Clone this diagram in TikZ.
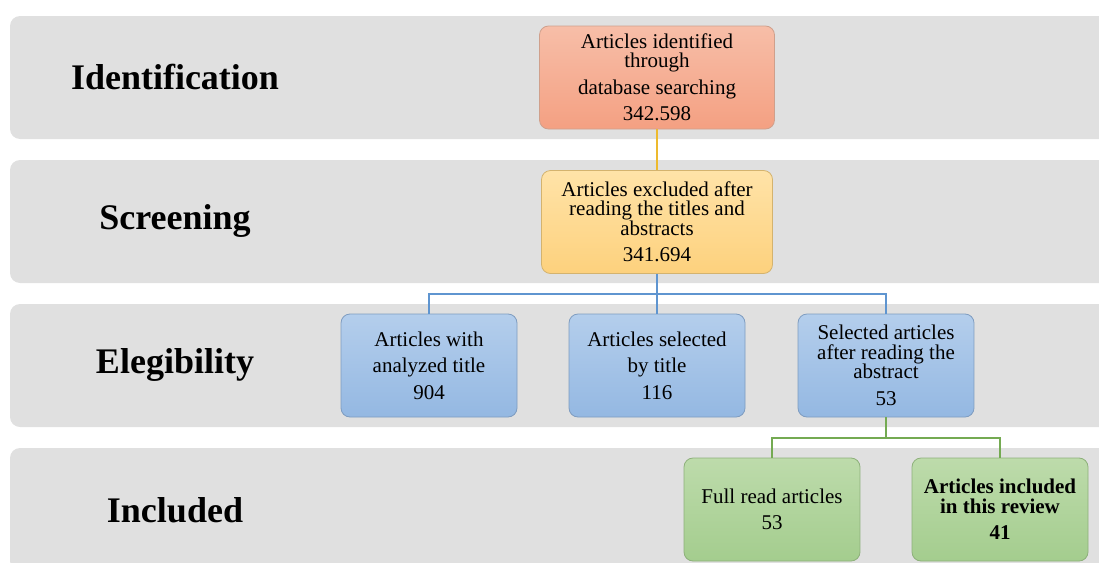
\documentclass[tikz,border=0pt]{standalone}
\usepackage{fontspec}
\setmainfont{Liberation Serif}
\usepackage{xcolor}
\usepackage{tikz}

\definecolor{bandgray}{HTML}{E0E0E0}
\definecolor{orgtop}{HTML}{F7BEA8}
\definecolor{orgbot}{HTML}{F4A082}
\definecolor{orgline}{HTML}{CFA08C}
\definecolor{yeltop}{HTML}{FFE3A8}
\definecolor{yelbot}{HTML}{FDD17D}
\definecolor{yelline}{HTML}{D4B36E}
\definecolor{blutop}{HTML}{B4CEEC}
\definecolor{blubot}{HTML}{94B8E2}
\definecolor{bluline}{HTML}{7E9CC0}
\definecolor{grntop}{HTML}{BDDBAB}
\definecolor{grnbot}{HTML}{A4CD8E}
\definecolor{grnline}{HTML}{8DB07A}
\definecolor{linkyel}{HTML}{EDBA2E}
\definecolor{linkblu}{HTML}{5F95D0}
\definecolor{linkgrn}{HTML}{74AA52}

\begin{document}
\begin{tikzpicture}[x=1pt,y=-1pt,
  band/.style={fill=bandgray, rounded corners=10pt},
  phase/.style={font=\fontsize{36}{40}\selectfont\bfseries},
  stepbox/.style={draw, rounded corners=9pt, minimum width=176pt, minimum height=103pt,
    inner sep=0pt, align=center, line width=0.8pt, font=\fontsize{21}{19.5}\selectfont},
  orgbox/.style={stepbox, minimum width=235pt, draw=orgline, top color=orgtop, bottom color=orgbot},
  yelbox/.style={stepbox, minimum width=231pt, draw=yelline, top color=yeltop, bottom color=yelbot},
  blubox/.style={stepbox, draw=bluline, top color=blutop, bottom color=blubot},
  grnbox/.style={stepbox, draw=grnline, top color=grntop, bottom color=grnbot},
  link/.style={line width=1.2pt}]
\useasboundingbox (0,0) rectangle (1099,562);
\begin{scope}
\clip (0,0) rectangle (1099,562);
\foreach \top in {16,160,304,448}
    \fill[band] (10,\top) rectangle (1130,\top+123);
\end{scope}

\node[phase] (idph) at (175,77) {Identification};
\node[phase] (scph) at (175,221) {Screening};
\node[phase] (elph) at (175,365) {Elegibility};
\node[phase] (inph) at (175,510) {Included};

\node[orgbox] (ident) at (657,77.5) {Articles identified\\ through\\[7pt] database searching\\[7pt] 342.598};
\node[yelbox] (excl) at (657,222) {Articles excluded after\\ reading the titles and\\ abstracts\\[7pt] 341.694};
\node[blubox] (analyzed) at (429,365.5) {Articles with\\[7pt] analyzed title\\[7pt] 904};
\node[blubox] (bytitle) at (657,365.5) {Articles selected\\[7pt] by title\\[7pt] 116};
\node[blubox] (abstr) at (886,365.5) {Selected articles\\ after reading the\\ abstract\\[7pt] 53};
\node[grnbox] (fullread) at (772,509.5) {Full read articles\\[7pt] 53};
\node[grnbox, font=\fontsize{21}{19.5}\selectfont\bfseries] (included) at (1000,509.5) {Articles included\\ in this review\\[7pt] 41};

\coordinate (bsplit) at (657,294);
\coordinate (gsplit) at (886,438);
\draw[link, draw=linkyel] (ident.south) -- (excl.north);
\draw[link, draw=linkblu] (excl.south) -- (bytitle.north);
\draw[link, draw=linkblu] (analyzed.north) |- (bsplit) -| (abstr.north);
\draw[link, draw=linkgrn] (abstr.south) -- (gsplit);
\draw[link, draw=linkgrn] (fullread.north) |- (gsplit) -| (included.north);
\end{tikzpicture}
\end{document}
